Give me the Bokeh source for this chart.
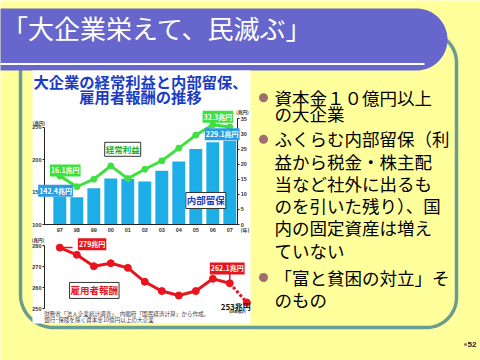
import numpy as np
from bokeh.plotting import figure
from bokeh.models import Range1d, LinearAxis, Label, FixedTicker
from bokeh.embed import file_html
from bokeh.resources import INLINE
from bokeh.core.properties import value

# ---------------- data ----------------
years = ["97", "98", "99", "00", "01", "02", "03", "04", "05", "06", "07"]
reserves = [142.4, 142.0, 156.0, 171.0, 170.4, 166.2, 182.8, 197.2, 216.5, 226.7, 229.1]
profits = [16.1, 12.5, 15.0, 19.4, 15.2, 18.3, 21.1, 25.3, 29.6, 33.0, 32.3]
compensation = [279.0, 275.6, 270.2, 271.6, 269.4, 262.8, 258.4, 256.3, 258.4, 264.2, 262.1]
comp_estimate = 253.0
left_ticks = [100, 150, 200, 250]
right_ticks = [0, 5, 10, 15, 20, 25, 30, 35]
comp_ticks = [250, 260, 270, 280]

slide_title = "「大企業栄えて、民滅ぶ」"
chart_title = ["大企業の経常利益と内部留保、", "雇用者報酬の推移"]
bullets = [
    ["資本金１０億円以上", "の大企業"],
    ["ふくらむ内部留保（利", "益から税金・株主配", "当など社外に出るも",
     "のを引いた残り）、国", "内の固定資産は増え", "ていない"],
    ["「富と貧困の対立」そ", "のもの"],
]
notes = ["財務省「法人企業統計調査」、内閣府「国民経済計算」から作成。",
         "銀行･保険を除く資本金10億円以上の大企業"]
page_no = "52"

# ---------------- styles ----------------
YEL = "#FFFF9C"
PURPLE = "#6666CC"
TEAL = "#6B9C94"
JP = "Noto Sans CJK JP"
BLUE_BAR = "#1DAEE8"
GREEN = "#3FE03F"
RED = "#E8141E"

idx = list(range(len(years)))

# slide canvas in slide pixels (y downwards)
X0, X1, Y0, Y1 = 0, 480, 0, 360
p = figure(width=X1 - X0, height=Y1 - Y0,
           x_range=Range1d(X0, X1), y_range=Range1d(Y1, Y0),
           x_axis_type=None, y_axis_type=None,
           output_backend="svg", toolbar_location=None, min_border=0,
           background_fill_color=YEL, border_fill_color=YEL, outline_line_color=None)

# chart scales (category index / values -> slide pixels)
CX0, CDX = 59.3, 17.0          # first category centre, spacing
R_Y100, R_PX = 224.0, 0.6487   # reserves: 100 at y=224
P_Y0, P_PX = 224.0, 3.02       # profits: 0 at y=224
C_Y280, C_PX = 245.0, 2.11     # compensation: 280 at y=245
p.extra_x_ranges = {"cat": Range1d((X0 - CX0) / CDX, (X1 - CX0) / CDX)}
p.extra_y_ranges = {
    "res": Range1d(100 - (Y1 - R_Y100) / R_PX, 100 + (R_Y100 - Y0) / R_PX),
    "prof": Range1d(-(Y1 - P_Y0) / P_PX, (P_Y0 - Y0) / P_PX),
    "comp": Range1d(280 - (Y1 - C_Y280) / C_PX, 280 + (C_Y280 - Y0) / C_PX),
}


def arc(cx, cy, r, a0, a1, n=40):
    t = np.linspace(a0, a1, n)
    return list(cx + r * np.cos(t)), list(cy + r * np.sin(t))


# ---------------- slide decoration ----------------
px, py = [20.0], [40.0]
ax_, ay_ = arc(53, 294, 33, np.pi, np.pi / 2)
px += ax_; py += ay_
ax_, ay_ = arc(426, 297, 30, np.pi / 2, 0)
px += ax_; py += ay_
ax_, ay_ = arc(426, 62, 30, 0, -np.pi / 2)
px += ax_; py += ay_
px += [300.0]; py += [32.0]
p.line(px, py, line_color=TEAL, line_width=3.5)

bx, by = arc(416, 39, 31, -np.pi / 2, np.pi / 2)
p.patch([-5.0] + bx + [-5.0], [8.0] + by + [70.0], fill_color=PURPLE, line_color=None)
p.segment(x0=[-5], y0=[63.5], x1=[424], y1=[63.5], line_color="white", line_width=2)
p.text(x=[1.5], y=[27], text=[slide_title], text_font=value(JP), text_font_size="26px",
       text_color="white", text_align="left", text_baseline="middle")

# chart picture background
p.quad(left=[32], right=[250], top=[70], bottom=[323], fill_color="white", line_color=None)
p.text(x=[140, 140], y=[80, 95], text=chart_title, text_font=value(JP),
       text_font_size="15.3px", text_font_style="bold", text_color="#1C3CC4",
       text_align="center", text_baseline="middle")

# ---------------- bar / profit chart ----------------
p.vbar(x=idx, top=reserves, bottom=100, width=0.76, fill_color=BLUE_BAR, line_color=None,
       x_range_name="cat", y_range_name="res")
p.line(idx, profits, line_color=GREEN, line_width=3, x_range_name="cat", y_range_name="prof")
p.scatter(idx, profits, size=6, fill_color=GREEN, line_color=GREEN,
          x_range_name="cat", y_range_name="prof")


def style_axis(a):
    a.axis_line_color = "#222222"
    a.axis_line_width = 1
    a.major_tick_line_color = "#222222"
    a.major_tick_out = 2
    a.major_tick_in = 0
    a.minor_tick_line_color = None
    a.major_label_standoff = 1
    a.major_label_text_font_size = "5.5px"
    a.major_label_text_font_style = "bold"
    a.major_label_text_color = "#333333"
    a.major_label_text_font = "Liberation Sans"


res_axis = LinearAxis(y_range_name="res", fixed_location=44, bounds=(100, 250),
                      ticker=FixedTicker(ticks=left_ticks))
style_axis(res_axis)
p.add_layout(res_axis, "left")

prof_axis = LinearAxis(y_range_name="prof", fixed_location=237.3, bounds=(0, 35),
                       ticker=FixedTicker(ticks=right_ticks))
style_axis(prof_axis)
p.add_layout(prof_axis, "right")

year_axis = LinearAxis(x_range_name="cat", fixed_location=224, bounds=(-0.9, 10.45),
                       ticker=FixedTicker(ticks=idx))
style_axis(year_axis)
year_axis.major_label_overrides = {i: y for i, y in enumerate(years)}
year_axis.major_tick_out = 0
year_axis.major_label_standoff = 3
p.add_layout(year_axis, "below")

# ---------------- compensation chart ----------------
est_x = [idx[-1], idx[-1] + 1]
est_y = [compensation[-1], comp_estimate]
p.line(idx, compensation, line_color=RED, line_width=3, x_range_name="cat", y_range_name="comp")
p.line(est_x, est_y, line_color=RED, line_width=3, line_dash="3 2",
       x_range_name="cat", y_range_name="comp")
p.scatter(idx, compensation, size=7, fill_color=RED, line_color=RED,
          x_range_name="cat", y_range_name="comp")
p.scatter(est_x[1:], est_y[1:], size=7, fill_color=RED, line_color=RED,
          x_range_name="cat", y_range_name="comp")
p.segment(x0=[idx[0]], y0=[compensation[0]], x1=[idx[0] + 0.75], y1=[compensation[0]],
          line_color=RED, line_width=1.5, x_range_name="cat", y_range_name="comp")
p.segment(x0=[idx[-1]], y0=[compensation[-1]], x1=[idx[-1]], y1=[267.5],
          line_color=RED, line_width=1.5, x_range_name="cat", y_range_name="comp")

comp_axis = LinearAxis(y_range_name="comp", fixed_location=44, bounds=(250, 280),
                       ticker=FixedTicker(ticks=comp_ticks))
style_axis(comp_axis)
p.add_layout(comp_axis, "left")


# ---------------- chart labels ----------------
def add_label(x, y, text, yr, size, color, bg=None, border=None, align="center", style="bold"):
    kw = {}
    if bg is not None:
        kw.update(background_fill_color=bg, padding=1)
    if border is not None:
        kw.update(border_line_color=border, border_line_width=1)
    p.add_layout(Label(x=x, y=y, x_range_name="cat", y_range_name=yr, text=text,
                       text_font=JP, text_font_size=size, text_font_style=style,
                       text_color=color, text_align=align, text_baseline="middle", **kw))


add_label(idx[0] + 0.32, profits[0] + 1.8, f"{profits[0]}兆円", "prof", "7px", "white", bg=GREEN)
add_label(idx[0] - 0.25, reserves[0] + 9.6, f"{reserves[0]}兆円", "res", "7px", "white", bg="#2A9DE6")
add_label(idx[-1] - 0.7, profits[-1] + 3.4, f"{profits[-1]}兆円", "prof", "7px", "white", bg=GREEN)
add_label(idx[-1] - 0.45, reserves[-1] + 10.1, f"{reserves[-1]}兆円", "res", "7px", "white", bg="#2A9DE6")
add_label(3.7, 24.9, "経常利益", "prof", "8.5px", "#22B022", bg="white", border="#333333")
add_label(8.59, 137, "内部留保", "res", "9.5px", "#1C3CC4", bg="white", border="#333333")
add_label(-1.22, 257, "(兆円)", "res", "4.5px", "#333333")
add_label(10.75, 37.1, "(兆円)", "prof", "4.5px", "#333333")
add_label(10.9, 92.3, "(年)", "res", "5px", "#333333")

add_label(idx[0] + 1.9, compensation[0] + 1.6, f"{compensation[0]:g}兆円", "comp", "7px", "white", bg=RED)
add_label(idx[-1] - 0.15, 269.1, f"{compensation[-1]}兆円", "comp", "7px", "white", bg=RED)
add_label(2.03, 258.7, "雇用者報酬", "comp", "9.5px", RED, bg="white", border="#333333")
add_label(10.35, 250.9, f"{comp_estimate:g}兆円", "comp", "8px", "#111111")
add_label(10.45, 248.5, "(08年推計)", "comp", "3.5px", "#333333")
add_label(-1.28, 282.8, "(兆円)", "comp", "4.5px", "#333333")
add_label(-0.92, 247.5, notes[0], "comp", "5.6px", "#444444", align="left", style="normal")
add_label(-0.92, 244.7, notes[1], "comp", "5.6px", "#444444", align="left", style="normal")

# ---------------- right text panel ----------------
line_y = [[96.7, 112.7], [138.3, 160.5, 182.8, 205.0, 227.2, 250.0], [276.5, 298.5]]
bx_, by_, tx, ty, tt = [], [], [], [], []
for lines, ys in zip(bullets, line_y):
    bx_.append(263)
    by_.append(ys[0] + 0.5)
    for t, yv in zip(lines, ys):
        tx.append(274)
        ty.append(yv)
        tt.append(t)
p.scatter(bx_, by_, size=9, fill_color="#9E6E6E", line_color=None)
p.text(x=tx, y=ty, text=tt, text_font=value(JP), text_font_size="17.5px",
       text_color="black", text_align="left", text_baseline="middle")
p.scatter([465], [344], size=3, fill_color="#9E6E6E", line_color=None)
p.text(x=[467], y=[344], text=[page_no], text_font=value("Liberation Sans"),
       text_font_size="8px", text_font_style="bold", text_color="#222222",
       text_align="left", text_baseline="middle")

open("out.html", "w").write(file_html(p, INLINE))
